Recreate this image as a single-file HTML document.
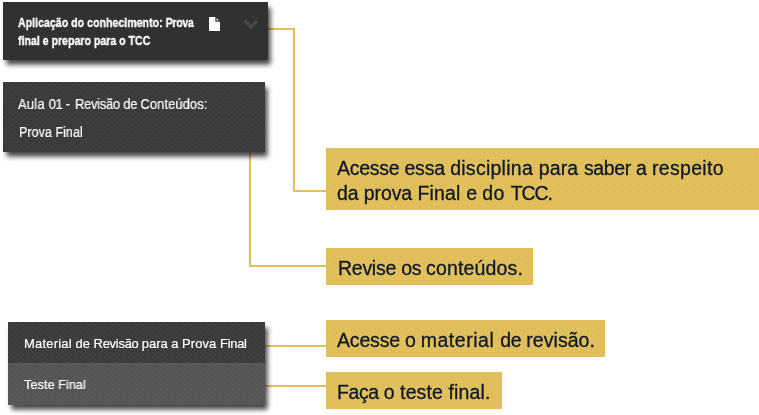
<!DOCTYPE html>
<html lang="pt-BR">
<head>
<meta charset="utf-8">
<title>Guia</title>
<style>
html,body{margin:0;padding:0;background:#fff;}
body{width:759px;height:415px;position:relative;overflow:hidden;font-family:"Liberation Sans",sans-serif;}
.dark{position:absolute;color:#fff;-webkit-text-stroke:.2px #fff;box-shadow:2.500px 4.500px 5px rgba(0,0,0,.75);}
.t{position:absolute;white-space:nowrap;transform-origin:0 0;line-height:1;will-change:transform;}
.y{position:absolute;background-color:#e1c05c;color:#101829;background-image:radial-gradient(circle at 1.5px 1.5px,rgba(120,90,20,.1) .55px,transparent .7px),radial-gradient(circle at 5.5px 4.5px,rgba(120,90,20,.1) .55px,transparent .7px);background-size:8px 7px;}
.y .t{font-size:19.500px;-webkit-text-stroke:.3px #101829;}
.ln{position:absolute;background:#e2bf5b;}
.tx{background-image:radial-gradient(circle at .5px .5px,rgba(255,255,255,.06) .55px,transparent .7px),radial-gradient(circle at 3.5px 2.5px,rgba(255,255,255,.06) .55px,transparent .7px);background-size:6px 5px;}
</style>
</head>
<body>
<!-- connector lines -->
<div class="ln" style="left:267px;top:28px;width:28px;height:2px;"></div>
<div class="ln" style="left:293px;top:28px;width:2px;height:164px;"></div>
<div class="ln" style="left:293px;top:190px;width:34px;height:2px;"></div>

<div class="ln" style="left:249px;top:151px;width:2px;height:116px;"></div>
<div class="ln" style="left:249px;top:265px;width:78px;height:2px;"></div>

<div class="ln" style="left:265px;top:345px;width:62px;height:2px;"></div>
<div class="ln" style="left:265px;top:385px;width:62px;height:2px;"></div>

<!-- box 1 -->
<div class="dark" style="left:3px;top:2px;width:264.500px;height:58px;background-color:#313131;">
  <span class="t" id="a1" style="left:15px;top:14.800px;font-size:12.700px;font-weight:bold;transform:scaleX(.83);-webkit-text-stroke:.35px #fff;"><span style="letter-spacing:0.06px">Aplicação do conhecimento: </span><span style="letter-spacing:-0.32px">Prova</span></span>
  <span class="t" id="a2" style="left:15px;top:32.600px;font-size:12.700px;font-weight:bold;transform:scaleX(.834);-webkit-text-stroke:.35px #fff;">final e preparo para o TCC</span>
  <svg style="position:absolute;left:206px;top:15px" width="11.4" height="14.2" viewBox="0 0 11.4 14.2"><path d="M0 0h6.400v4.700h5v9.500H0z" fill="#fff"/><path d="M7.600 1.100l2.400 2.400h-2.400z" fill="#fff"/></svg>
  <svg style="position:absolute;left:239.800px;top:16.500px" width="16" height="11" viewBox="0 0 16 11"><path d="M1.600 1.600L7.800 8L14 1.600" fill="none" stroke="#484848" stroke-width="3.400"/></svg>
</div>

<!-- box 2 -->
<div class="dark tx" style="left:3px;top:82px;width:262px;height:69.500px;background-color:#3b3b3b;">
  <span class="t" id="b1" style="left:15px;top:15.200px;font-size:14px;transform:scaleX(.924);"><span style="letter-spacing:0.25px">Aula </span><span style="letter-spacing:-0.42px">01 </span><span style="letter-spacing:0.94px">- </span><span style="letter-spacing:-0.3px">Revisão </span><span style="letter-spacing:-0.3px">de </span><span style="letter-spacing:0.1px">Conteúdos:</span></span>
  <span class="t" id="b2" style="left:15.500px;top:42.700px;font-size:14px;transform:scaleX(.9);">Prova Final</span>
</div>

<!-- box 3 -->
<div class="dark tx" style="left:8px;top:322px;width:257px;height:82.500px;background-color:#565656;">
  <div class="tx" style="position:absolute;left:0;top:0;width:257px;height:40.500px;background-color:#3c3c3c;"></div>
  <span class="t" id="c1" style="left:15.900px;top:16px;font-size:12.900px;transform:scaleX(1.003);"><span style="letter-spacing:0.22px">Material </span>de <span style="letter-spacing:-0.25px">Revisão </span>para a <span style="letter-spacing:0.1px">Prova </span><span style="letter-spacing:-0.3px">Final</span></span>
  <span class="t" id="c2" style="left:15.800px;top:57px;font-size:12.900px;transform:scaleX(.99);">Teste Final</span>
</div>

<!-- yellow boxes -->
<div class="y" style="left:326px;top:148px;width:433px;height:61.500px;">
  <span class="t" id="y1" style="left:11px;top:10.600px;letter-spacing:0px;"><span style="letter-spacing:-0.28px">Acesse </span><span style="letter-spacing:-0.17px">essa </span><span style="letter-spacing:0.26px">disciplina </span><span style="letter-spacing:0.17px">para </span><span style="letter-spacing:-0.38px">saber </span><span style="letter-spacing:-0.1px">a </span><span style="letter-spacing:0.31px">respeito</span></span>
  <span class="t" id="y2" style="left:11px;top:35.600px;letter-spacing:-.1px;">da prova <span style="letter-spacing:0.19px">Final </span>e <span style="letter-spacing:0.45px">do </span><span style="letter-spacing:-1.1px">TCC.</span></span>
</div>
<div class="y" style="left:326px;top:248px;width:207px;height:37px;">
  <span class="t" id="y3" style="left:11.800px;top:11px;letter-spacing:-.07px;"><span style="letter-spacing:-0.27px">Revise </span><span style="letter-spacing:-0.36px">os </span><span style="letter-spacing:0.16px">conteúdos.</span></span>
</div>
<div class="y" style="left:326px;top:320px;width:278.500px;height:36.500px;">
  <span class="t" id="y4" style="left:11px;top:11px;letter-spacing:.05px;"><span style="letter-spacing:-0.18px">Acesse </span><span style="letter-spacing:-0.35px">o </span><span style="letter-spacing:0.53px">material </span><span style="letter-spacing:-0.35px">de </span><span style="letter-spacing:0.05px">revisão.</span></span>
</div>
<div class="y" style="left:326px;top:372px;width:175.500px;height:37px;">
  <span class="t" id="y5" style="left:11.300px;top:10.500px;letter-spacing:.02px;"><span style="letter-spacing:-0.4px">Faça </span>o <span style="letter-spacing:0.13px">teste </span><span style="letter-spacing:0.12px">final.</span></span>
</div>
</body>
</html>
